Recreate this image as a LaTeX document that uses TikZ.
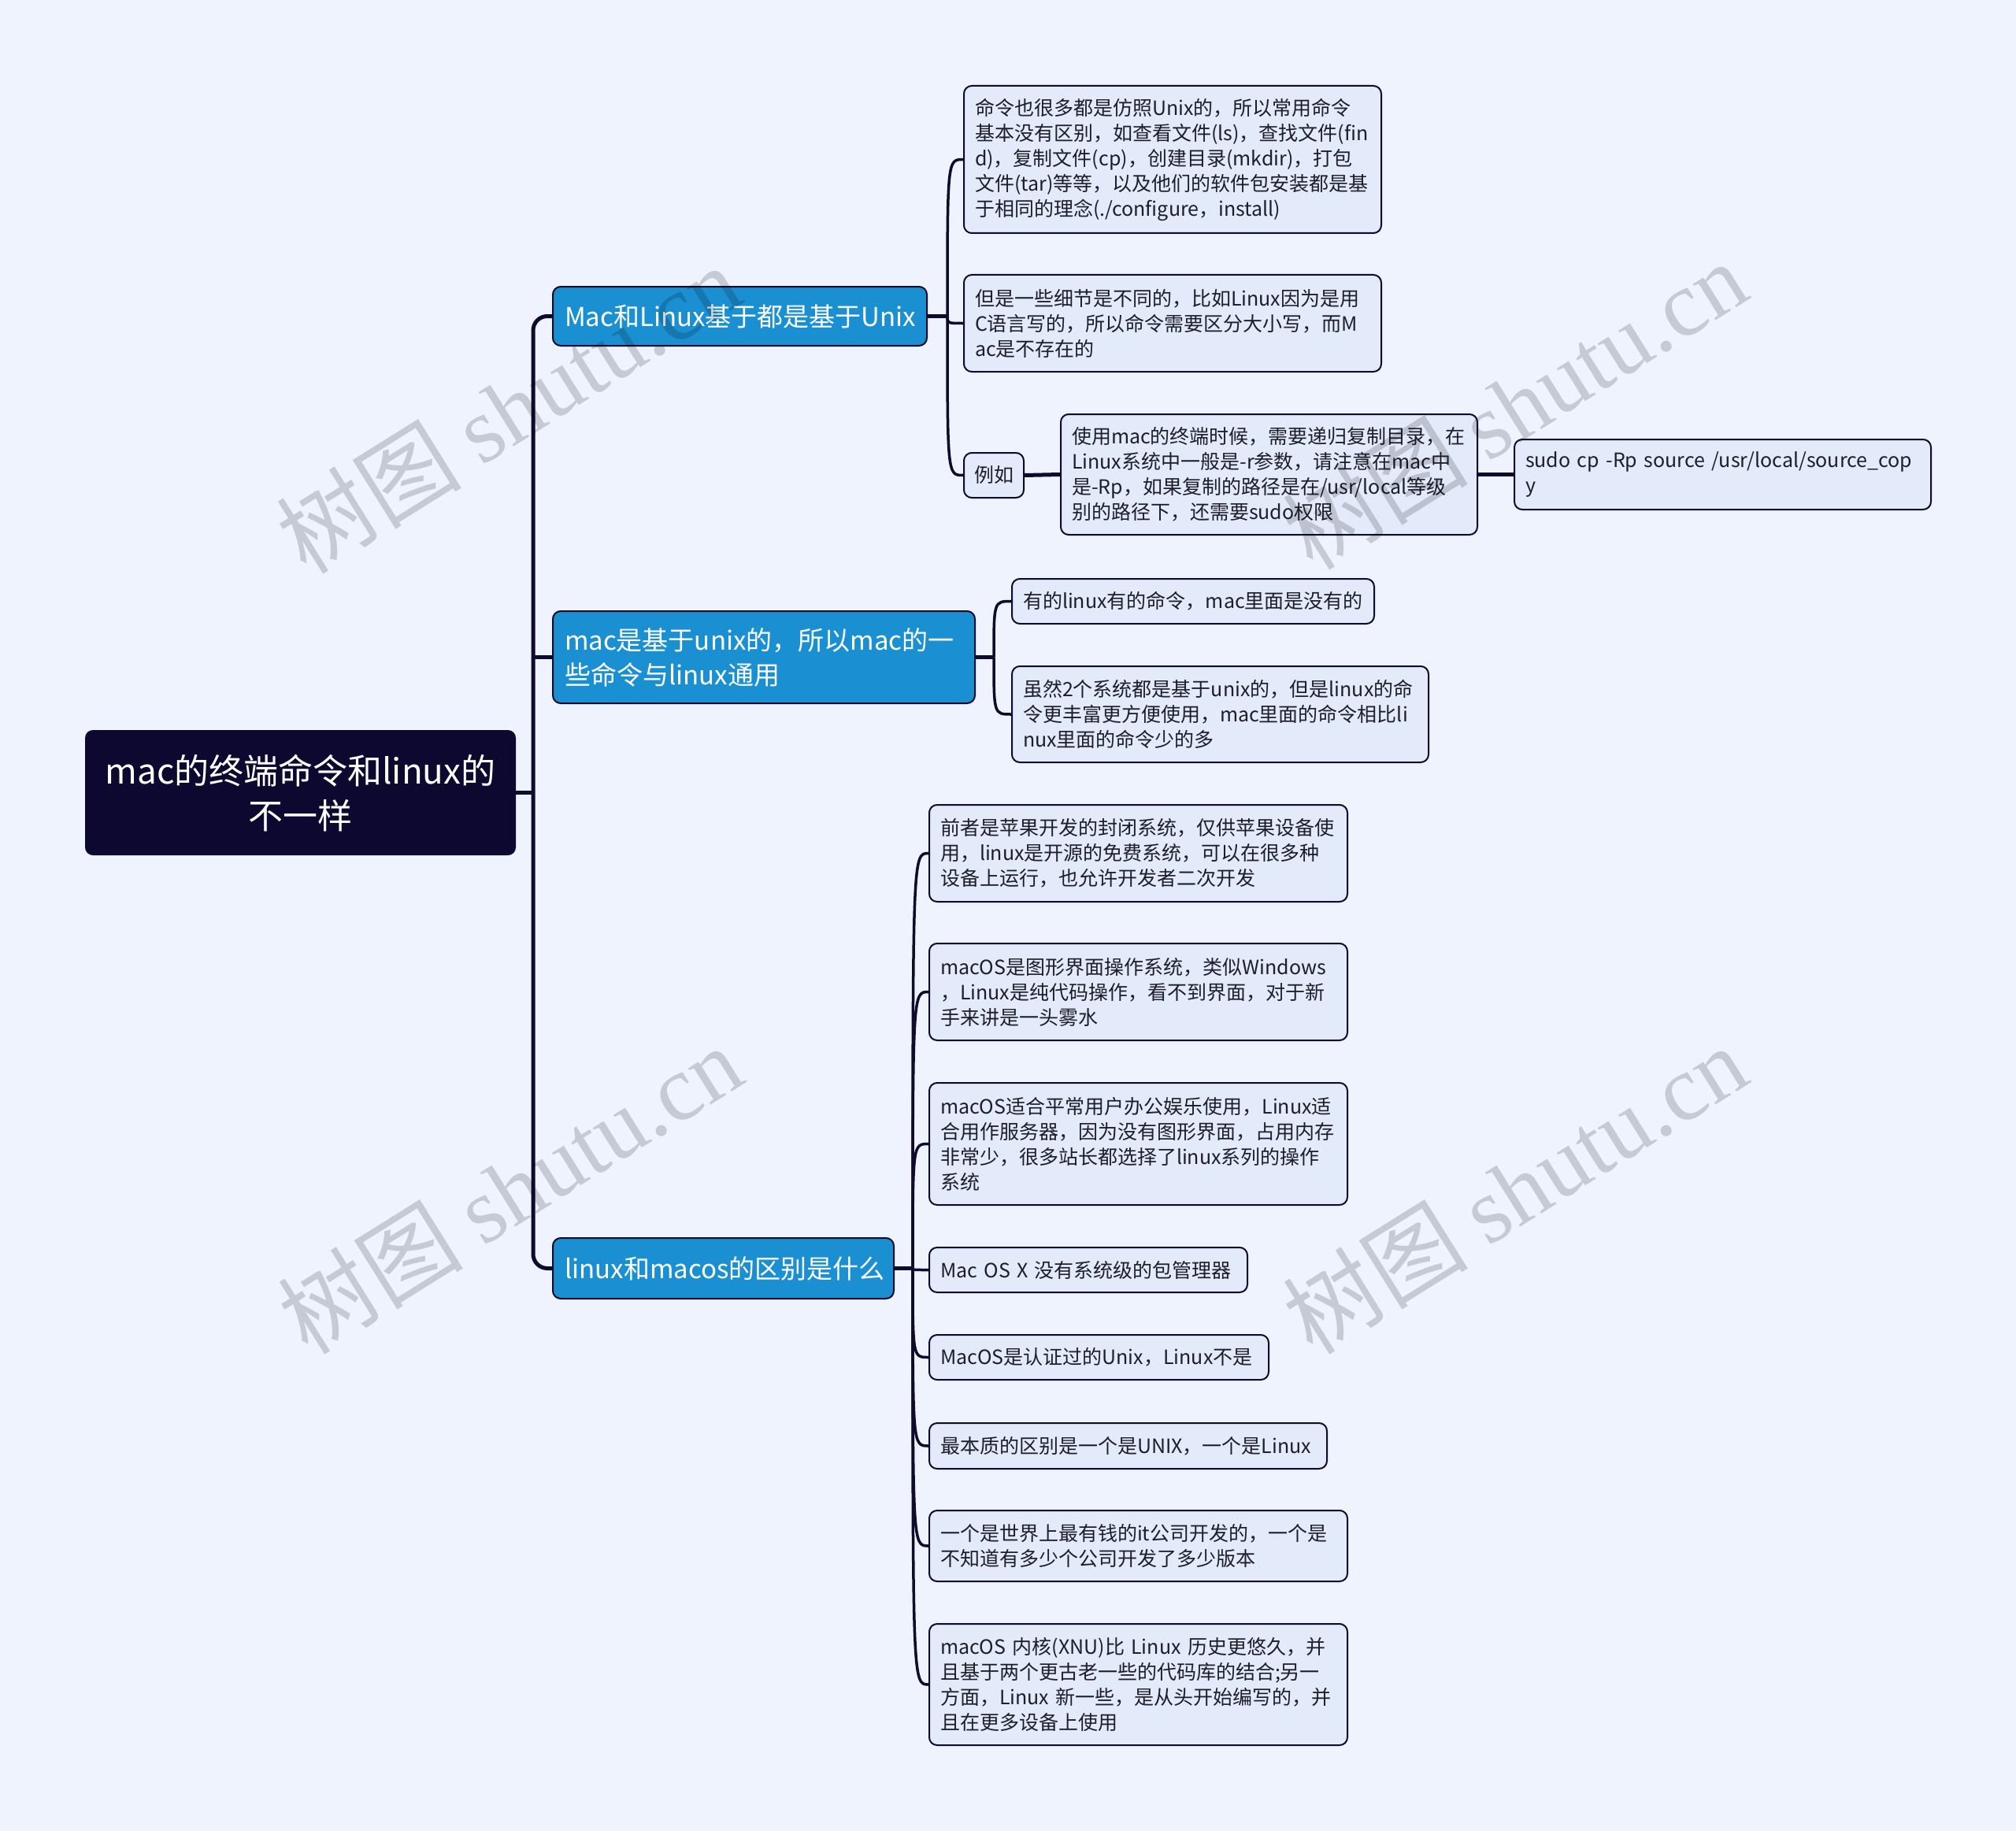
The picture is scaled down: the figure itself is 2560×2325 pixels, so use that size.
\documentclass[tikz,border=0pt]{standalone}
\usepackage{fontspec}
\setmainfont{Noto Sans CJK SC}
\newfontfamily\wmcjk{Noto Sans CJK SC}
\newfontfamily\wmlat{Liberation Serif}
\definecolor{bgC}{HTML}{EEF3FE}
\definecolor{lineC}{HTML}{0E0B2C}
\definecolor{leafF}{HTML}{E3EAFA}
\definecolor{brF}{HTML}{1A90D2}
\definecolor{rootF}{HTML}{0C0830}
\definecolor{txtC}{HTML}{1E1E2A}
\tikzset{
  leaf/.style={draw=lineC, line width=2pt, fill=leafF, rounded corners=10pt,
    inner xsep=14pt, inner ysep=0pt, align=left, text=txtC,
    font=\fontsize{25}{32}\selectfont},
  branch/.style={draw=lineC, line width=2pt, fill=brF, rounded corners=10pt,
    inner xsep=15pt, inner ysep=0pt, align=left, text=white,
    font=\fontsize{33}{44}\selectfont},
  rootn/.style={fill=rootF, rounded corners=10pt, inner sep=0pt, align=center,
    text=white, font=\fontsize{44}{57}\selectfont},
  trunk/.style={draw=lineC, line width=5pt},
  conn/.style={draw=lineC, line width=3.5pt},
  wm/.style={rotate=32, text=black, text opacity=0.17, inner sep=0pt},
}
\newcommand{\wmtext}{{\wmcjk 树图} {\wmlat shutu.cn}}
\begin{document}
\begin{tikzpicture}[x=1pt,y=-1pt]
\useasboundingbox (0,0) rectangle (2560,2325);
\fill[bgC] (0,0) rectangle (2560,2325);

% root and branches
\node[rootn, minimum width=547pt, minimum height=159pt, text width=517pt] (root) at (381.5,1006.5) {mac的终端命令和linux的\\不一样};
\node[branch, minimum width=475pt, minimum height=75pt, text width=445pt] (B1) at (939.5,401.5) {Mac和Linux基于都是基于Unix};
\node[branch, minimum width=536pt, minimum height=117pt, text width=506pt] (B2) at (970,834.5) {mac是基于unix的，所以mac的一\\些命令与linux通用};
\node[branch, minimum width=433pt, minimum height=77pt, text width=403pt] (B3) at (918.5,1610.5) {linux和macos的区别是什么};

% branch 1 children
\node[leaf, minimum width=530pt, minimum height=187pt, text width=502pt] (c11) at (1489,202.5) {命令也很多都是仿照Unix的，所以常用命令\\基本没有区别，如查看文件(ls)，查找文件(fin\\d)，复制文件(cp)，创建目录(mkdir)，打包\\文件(tar)等等，以及他们的软件包安装都是基\\于相同的理念(./configure，install)};
\node[leaf, minimum width=530pt, minimum height=123pt, text width=502pt] (c12) at (1489,410.5) {但是一些细节是不同的，比如Linux因为是用\\C语言写的，所以命令需要区分大小写，而M\\ac是不存在的};
\node[leaf, minimum width=76pt, minimum height=57pt, inner xsep=0pt, align=center] (c13) at (1262,603.5) {例如};
\node[leaf, minimum width=529pt, minimum height=153pt, text width=501pt] (c131) at (1611.5,602.5) {使用mac的终端时候，需要递归复制目录，在\\Linux系统中一般是-r参数，请注意在mac中\\是-Rp，如果复制的路径是在/usr/local等级\\别的路径下，还需要sudo权限};
\node[leaf, minimum width=529pt, minimum height=89pt, text width=501pt] (c1311) at (2187.5,602.5) {sudo cp -Rp source /usr/local/source\_cop\\y};

% branch 2 children
\node[leaf, minimum width=460pt, minimum height=57pt, text width=432pt] (c21) at (1515,763.5) {有的linux有的命令，mac里面是没有的};
\node[leaf, minimum width=529pt, minimum height=122pt, text width=501pt] (c22) at (1549.5,907) {虽然2个系统都是基于unix的，但是linux的命\\令更丰富更方便使用，mac里面的命令相比li\\nux里面的命令少的多};

% branch 3 children
\node[leaf, minimum width=531pt, minimum height=123pt, text width=503pt] (c31) at (1445.5,1083.5) {前者是苹果开发的封闭系统，仅供苹果设备使\\用，linux是开源的免费系统，可以在很多种\\设备上运行，也允许开发者二次开发};
\node[leaf, minimum width=531pt, minimum height=123pt, text width=503pt] (c32) at (1445.5,1259.5) {macOS是图形界面操作系统，类似Windows\\，Linux是纯代码操作，看不到界面，对于新\\手来讲是一头雾水};
\node[leaf, minimum width=531pt, minimum height=155pt, text width=503pt] (c33) at (1445.5,1452.5) {macOS适合平常用户办公娱乐使用，Linux适\\合用作服务器，因为没有图形界面，占用内存\\非常少，很多站长都选择了linux系列的操作\\系统};
\node[leaf, minimum width=404pt, minimum height=57pt, text width=376pt] (c34) at (1382,1612.5) {Mac OS X 没有系统级的包管理器};
\node[leaf, minimum width=431pt, minimum height=57pt, text width=403pt] (c35) at (1395.5,1723.5) {MacOS是认证过的Unix，Linux不是};
\node[leaf, minimum width=505pt, minimum height=58pt, text width=477pt] (c36) at (1432.5,1836) {最本质的区别是一个是UNIX，一个是Linux};
\node[leaf, minimum width=531pt, minimum height=90pt, text width=503pt] (c37) at (1445.5,1963) {一个是世界上最有钱的it公司开发的，一个是\\不知道有多少个公司开发了多少版本};
\node[leaf, minimum width=531pt, minimum height=154pt, text width=503pt] (c38) at (1445.5,2139) {macOS 内核(XNU)比 Linux 历史更悠久，并\\且基于两个更古老一些的代码库的结合;另一\\方面，Linux 新一些，是从头开始编写的，并\\且在更多设备上使用};

% trunk
\coordinate (tj) at (677,1006.5);
\draw[trunk] (root.east) -- (tj);
\draw[trunk, rounded corners=18pt] (B1.west) -- (B1.west -| tj) -- (B3.west -| tj) -- (B3.west);
\draw[trunk] (B2.west) -- (B2.west -| tj);

% branch 1 connectors
\coordinate (j1) at (1203,401.5);
\draw[trunk] (B1.east) -- (j1);
\foreach \c in {c11,c12,c13}
  \draw[conn] (j1) .. controls (j1 |- \c.west) and (j1 |- \c.west) .. (\c.west);
\draw[trunk] (c13.east) -- (c131.west);
\draw[trunk] (c131.east) -- (c1311.west);

% branch 2 connectors
\coordinate (j2) at (1262,834.5);
\draw[trunk] (B2.east) -- (j2);
\foreach \c in {c21,c22}
  \draw[conn] (j2) .. controls (j2 |- \c.west) and (j2 |- \c.west) .. (\c.west);

% branch 3 connectors
\coordinate (j3) at (1159,1610.5);
\draw[trunk] (B3.east) -- (j3);
\foreach \c in {c31,c32,c33,c34,c35,c36,c37,c38}
  \draw[conn] (j3) .. controls (j3 |- \c.west) and (j3 |- \c.west) .. (\c.west);

% watermarks
\node[wm, font=\fontsize{118}{118}\selectfont] (w1) at (645,519) {\wmtext};
\node[wm, font=\fontsize{118}{118}\selectfont] (w2) at (1923,514) {\wmtext};
\node[wm, font=\fontsize{118}{118}\selectfont] (w3) at (647,1510) {\wmtext};
\node[wm, font=\fontsize{118}{118}\selectfont] (w4) at (1923,1510) {\wmtext};
\end{tikzpicture}
\end{document}
